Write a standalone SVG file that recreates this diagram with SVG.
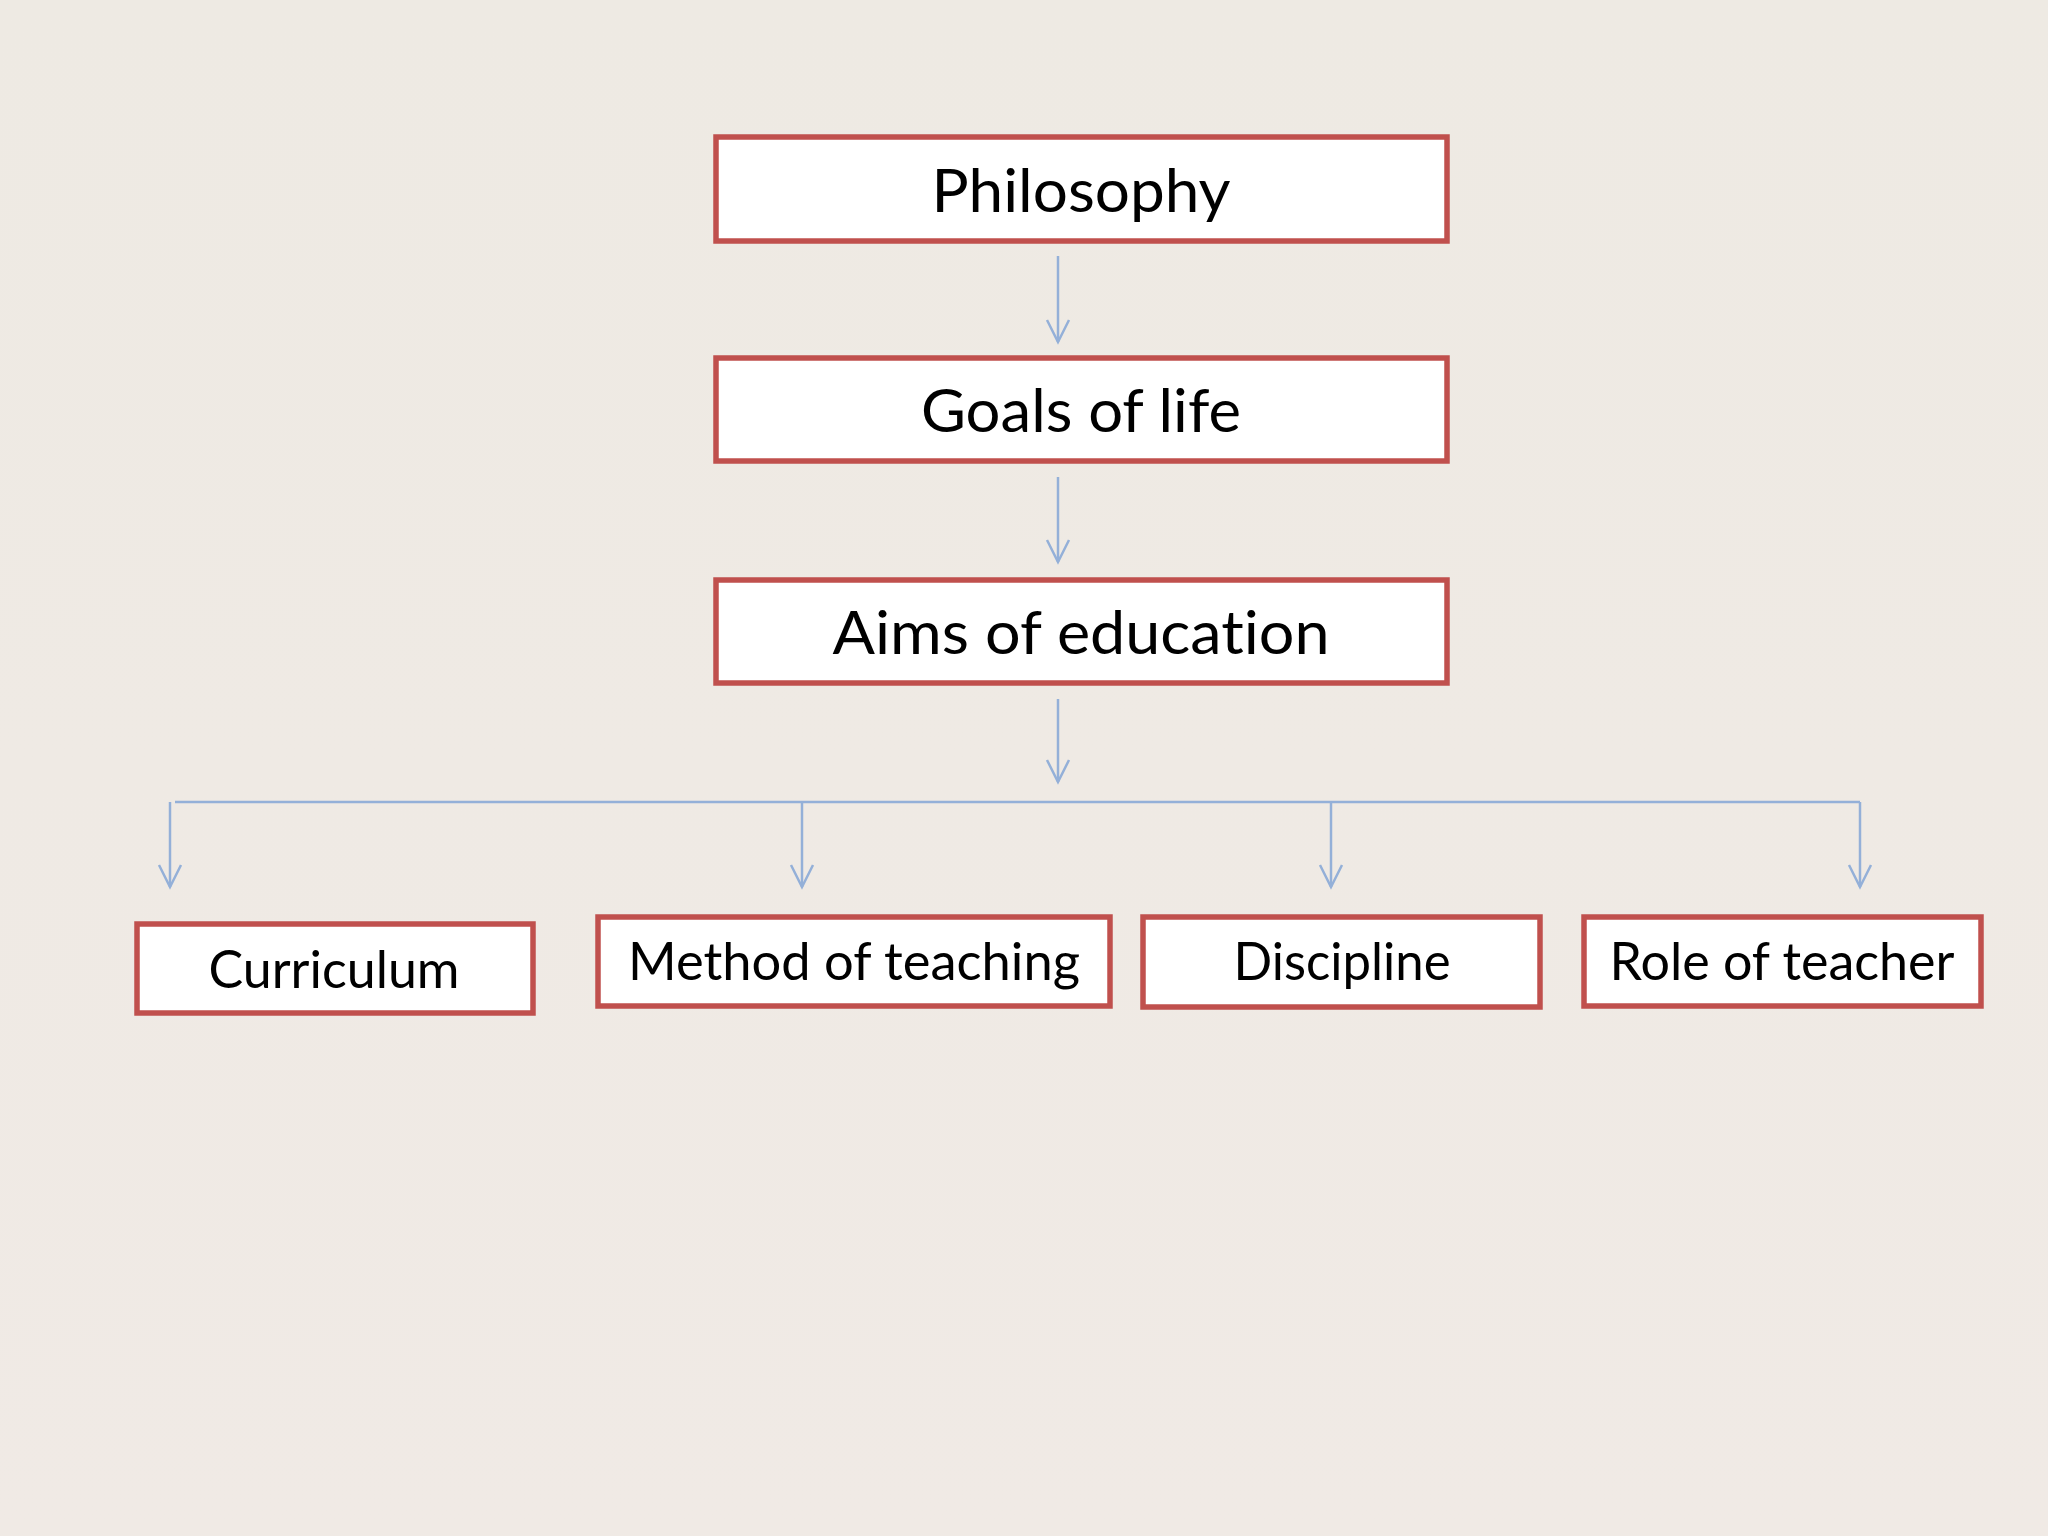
<svg xmlns="http://www.w3.org/2000/svg" width="2048" height="1536" viewBox="0 0 2048 1536">
<defs>
<marker id="arr" markerUnits="userSpaceOnUse" markerWidth="30" markerHeight="30" viewBox="-25 -15 30 30" refX="0" refY="0" orient="auto">
<path d="M-22,-11 L0,0 L-22,11" fill="none" stroke="#94B0D8" stroke-width="2.5"/>
</marker>
<linearGradient id="bg" x1="0" y1="0" x2="0" y2="1">
<stop offset="0" stop-color="#EEEAE3"/>
<stop offset="1" stop-color="#F0EAE5"/>
</linearGradient>
</defs>
<style>
.box{fill:#FFFFFF;stroke:#C0504D;stroke-width:5.5}
.big{font-family:Lato,"Liberation Sans",sans-serif;font-size:60px;fill:#000;text-anchor:middle;font-variant-ligatures:none}
.small{font-family:Lato,"Liberation Sans",sans-serif;font-size:52px;fill:#000;text-anchor:middle;font-variant-ligatures:none}
.con{fill:none;stroke:#94B0D8;stroke-width:2.5}
</style>
<rect x="0" y="0" width="2048" height="1536" fill="url(#bg)"/>
<g id="connectors">
<line class="con" x1="1058" y1="256" x2="1058" y2="342" marker-end="url(#arr)"/>
<line class="con" x1="1058" y1="477" x2="1058" y2="562" marker-end="url(#arr)"/>
<line class="con" x1="1058" y1="699" x2="1058" y2="782" marker-end="url(#arr)"/>
<polyline class="con" points="175,802 1860,802"/>
<line class="con" x1="170" y1="802" x2="170" y2="887" marker-end="url(#arr)"/>
<line class="con" x1="802" y1="802" x2="802" y2="887" marker-end="url(#arr)"/>
<line class="con" x1="1331" y1="802" x2="1331" y2="887" marker-end="url(#arr)"/>
<line class="con" x1="1860" y1="802" x2="1860" y2="887" marker-end="url(#arr)"/>
</g>
<g id="philosophy">
<rect class="box" x="716" y="137" width="731" height="104"/>
<text class="big" x="1081" y="212" textLength="299" lengthAdjust="spacingAndGlyphs">Philosophy</text>
</g>
<g id="goals">
<rect class="box" x="716" y="358" width="731" height="103"/>
<text class="big" x="1081" y="432" textLength="320" lengthAdjust="spacingAndGlyphs">Goals of life</text>
</g>
<g id="aims">
<rect class="box" x="716" y="580" width="731" height="103"/>
<text class="big" x="1081" y="654" textLength="497" lengthAdjust="spacingAndGlyphs">Aims of education</text>
</g>
<g id="curriculum">
<rect class="box" x="137" y="924" width="396" height="89"/>
<text class="small" x="334" y="988" textLength="251" lengthAdjust="spacingAndGlyphs">Curriculum</text>
</g>
<g id="method">
<rect class="box" x="598" y="917" width="512" height="89"/>
<text class="small" x="854" y="980" textLength="452" lengthAdjust="spacingAndGlyphs">Method of teaching</text>
</g>
<g id="discipline">
<rect class="box" x="1143" y="917" width="397" height="90"/>
<text class="small" x="1342" y="980" textLength="217" lengthAdjust="spacingAndGlyphs">Discipline</text>
</g>
<g id="role">
<rect class="box" x="1584" y="917" width="397" height="89"/>
<text class="small" x="1782" y="980" textLength="345" lengthAdjust="spacingAndGlyphs">Role of teacher</text>
</g>
</svg>
